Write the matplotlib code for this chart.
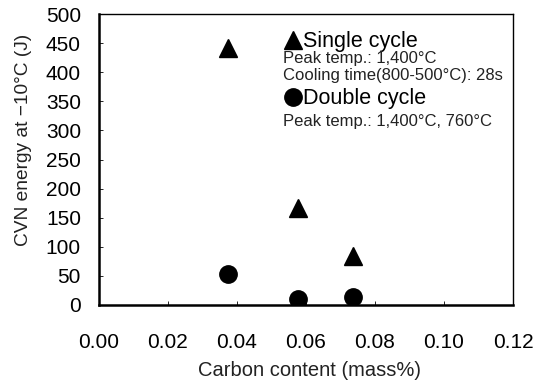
import matplotlib
matplotlib.use("Agg")
import matplotlib.pyplot as plt
from matplotlib.lines import Line2D

plt.rcParams['font.family'] = ['Liberation Sans', 'DejaVu Sans']

# datos
carbono = [0.0374, 0.0576, 0.0737]
single_cycle = [442, 167, 84]
double_cycle = [54, 10, 13]

xticks = [0.00, 0.02, 0.04, 0.06, 0.08, 0.10, 0.12]
yticks = [0, 50, 100, 150, 200, 250, 300, 350, 400, 450, 500]

W, H = 540, 383
fig = plt.figure(figsize=(W / 100, H / 100), dpi=100)
# caja de ejes en pixeles: x 99..513, y 14..305
ax = fig.add_axes([99 / W, (H - 305) / H, 414 / W, 291 / H])

ax.plot(carbono, single_cycle, linestyle='none', marker='^', color='black', markersize=13)
ax.plot(carbono, double_cycle, linestyle='none', marker='o', color='black', markersize=12.5)

ax.set_xlim(0, 0.12)
ax.set_ylim(0, 500)
ax.set_xticks(xticks)
ax.set_xticklabels(['%.2f' % v for v in xticks])
ax.set_yticks(yticks)
ax.tick_params(axis='both', direction='in', length=3, width=0.6, labelsize=15)
ax.tick_params(axis='x', pad=20)
ax.tick_params(axis='y', pad=13)
for s in ['left', 'bottom']:
    ax.spines[s].set_linewidth(1.8)
for s in ['top', 'right']:
    ax.spines[s].set_linewidth(1.0)

# etiquetas de ejes
fig.text(309 / W, 1 - 370 / H, 'Carbon content (mass%)', fontsize=14.5,
         ha='center', va='center', color='#222222')
fig.text(24 / W, 1 - 140 / H, 'CVN energy at \u221210\u00b0C (J)', fontsize=13.8,
         ha='center', va='center', rotation=90, color='#222222')

# leyenda escrita a mano
def px(x, y):
    return x / W, 1 - y / H

fig.add_artist(Line2D([px(292.5, 40)[0]], [px(292.5, 40)[1]], marker='^', color='black',
                      markersize=13, linestyle='none', transform=fig.transFigure))
fig.add_artist(Line2D([px(292.5, 96.5)[0]], [px(292.5, 96.5)[1]], marker='o', color='black',
                      markersize=12.5, linestyle='none', transform=fig.transFigure))

x0, y0 = px(303, 47)
fig.text(x0, y0, 'Single cycle', fontsize=15.5, va='baseline', ha='left')
x0, y0 = px(283, 63)
fig.text(x0, y0, 'Peak temp.: 1,400\u00b0C', fontsize=12, va='baseline', ha='left', color='#222222')
x0, y0 = px(283, 80)
fig.text(x0, y0, 'Cooling time(800-500\u00b0C): 28s', fontsize=12, va='baseline', ha='left', color='#222222')
x0, y0 = px(303, 104)
fig.text(x0, y0, 'Double cycle', fontsize=15.5, va='baseline', ha='left')
x0, y0 = px(283, 126)
fig.text(x0, y0, 'Peak temp.: 1,400\u00b0C, 760\u00b0C', fontsize=12, va='baseline', ha='left', color='#222222')

fig.savefig('out.png', dpi=100)
